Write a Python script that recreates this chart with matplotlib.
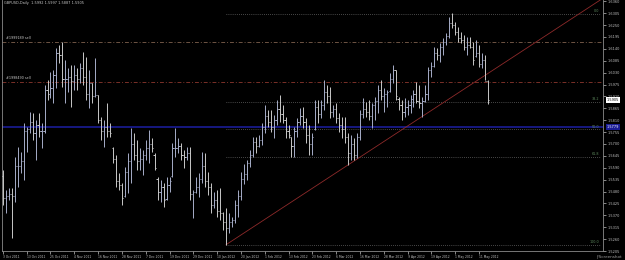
import numpy as np
import matplotlib
matplotlib.use("Agg")
import matplotlib.pyplot as plt
from matplotlib.collections import LineCollection
import matplotlib.transforms as mtransforms

# GBPUSD daily bars, 3 Oct 2011 .. 16 May 2012
high = [1.5580, 1.5488, 1.5497, 1.5497, 1.5640, 1.5687, 1.5663, 1.5797, 1.5779, 1.5848,
        1.5844, 1.5811, 1.5844, 1.5797, 1.5973, 1.5996, 1.6033, 1.6042, 1.6144, 1.6158,
        1.6172, 1.6088, 1.6052, 1.6065, 1.6065, 1.6052, 1.6075, 1.6125, 1.6102, 1.6042,
        1.5982, 1.6098, 1.5927, 1.5825, 1.5811, 1.5890, 1.5797, 1.5687, 1.5650, 1.5566,
        1.5520, 1.5594, 1.5659, 1.5774, 1.5751, 1.5719, 1.5682, 1.5673, 1.5719, 1.5765,
        1.5728, 1.5659, 1.5548, 1.5534, 1.5520, 1.5548, 1.5548, 1.5705, 1.5774, 1.5728,
        1.5705, 1.5673, 1.5687, 1.5687, 1.5488, 1.5548, 1.5566, 1.5663, 1.5659, 1.5571,
        1.5520, 1.5479, 1.5488, 1.5497, 1.5386, 1.5405, 1.5382, 1.5363, 1.5442, 1.5488,
        1.5571, 1.5608, 1.5626, 1.5673, 1.5733, 1.5733, 1.5742, 1.5797, 1.5881, 1.5857,
        1.5857, 1.5834, 1.5904, 1.5927, 1.5881, 1.5825, 1.5788, 1.5733, 1.5779, 1.5821,
        1.5867, 1.5871, 1.5821, 1.5788, 1.5751, 1.5904, 1.5904, 1.5904, 1.5996, 1.5973,
        1.5964, 1.5881, 1.5890, 1.5844, 1.5825, 1.5825, 1.5751, 1.5742, 1.5728, 1.5751,
        1.5857, 1.5913, 1.5894, 1.5904, 1.5890, 1.5918, 1.5973, 1.5996, 1.5959, 1.5950,
        1.6028, 1.6065, 1.6042, 1.5918, 1.5904, 1.5913, 1.5904, 1.5927, 1.5950, 1.5987,
        1.5973, 1.5918, 1.5973, 1.6056, 1.6079, 1.6149, 1.6144, 1.6167, 1.6190, 1.6213,
        1.6287, 1.6306, 1.6264, 1.6241, 1.6218, 1.6204, 1.6195, 1.6195, 1.6172, 1.6181,
        1.6158, 1.6121, 1.6112, 1.5997]
low = [1.5419, 1.5382, 1.5442, 1.5266, 1.5432, 1.5502, 1.5566, 1.5534, 1.5663, 1.5751,
       1.5719, 1.5626, 1.5733, 1.5682, 1.5751, 1.5904, 1.5913, 1.5890, 1.5959, 1.6075,
       1.5964, 1.5890, 1.5941, 1.5871, 1.5950, 1.5950, 1.5982, 1.5973, 1.5904, 1.5867,
       1.5890, 1.5918, 1.5797, 1.5719, 1.5687, 1.5733, 1.5733, 1.5613, 1.5502, 1.5488,
       1.5419, 1.5456, 1.5474, 1.5520, 1.5626, 1.5580, 1.5580, 1.5557, 1.5626, 1.5613,
       1.5663, 1.5580, 1.5442, 1.5432, 1.5409, 1.5442, 1.5479, 1.5548, 1.5640, 1.5659,
       1.5626, 1.5589, 1.5626, 1.5442, 1.5359, 1.5474, 1.5456, 1.5520, 1.5502, 1.5465,
       1.5382, 1.5405, 1.5363, 1.5349, 1.5303, 1.5234, 1.5289, 1.5317, 1.5335, 1.5363,
       1.5442, 1.5515, 1.5534, 1.5594, 1.5640, 1.5659, 1.5687, 1.5696, 1.5751, 1.5779,
       1.5756, 1.5728, 1.5788, 1.5802, 1.5797, 1.5728, 1.5728, 1.5640, 1.5640, 1.5733,
       1.5788, 1.5774, 1.5705, 1.5650, 1.5650, 1.5765, 1.5797, 1.5821, 1.5857, 1.5890,
       1.5821, 1.5825, 1.5797, 1.5756, 1.5728, 1.5705, 1.5603, 1.5626, 1.5626, 1.5636,
       1.5719, 1.5821, 1.5825, 1.5811, 1.5774, 1.5811, 1.5844, 1.5904, 1.5848, 1.5871,
       1.5941, 1.5982, 1.5904, 1.5857, 1.5811, 1.5825, 1.5834, 1.5844, 1.5871, 1.5890,
       1.5867, 1.5825, 1.5894, 1.5904, 1.6010, 1.6056, 1.6088, 1.6079, 1.6112, 1.6158,
       1.6190, 1.6236, 1.6204, 1.6172, 1.6167, 1.6135, 1.6112, 1.6144, 1.6065, 1.6102,
       1.6056, 1.6052, 1.5996, 1.5887]
opens = [1.5550, 1.5450, 1.5460, 1.5470, 1.5460, 1.5600, 1.5600, 1.5620, 1.5760, 1.5770,
         1.5800, 1.5750, 1.5790, 1.5760, 1.5760, 1.5950, 1.5930, 1.5960, 1.6020, 1.6120,
         1.6110, 1.6000, 1.6000, 1.6010, 1.5990, 1.6020, 1.6000, 1.6050, 1.6010, 1.5930,
         1.5980, 1.5920, 1.5925, 1.5810, 1.5760, 1.5780, 1.5760, 1.5680, 1.5630, 1.5530,
         1.5510, 1.5460, 1.5570, 1.5620, 1.5700, 1.5650, 1.5620, 1.5630, 1.5650, 1.5680,
         1.5700, 1.5650, 1.5540, 1.5480, 1.5500, 1.5445, 1.5510, 1.5550, 1.5680, 1.5680,
         1.5690, 1.5650, 1.5640, 1.5660, 1.5470, 1.5480, 1.5500, 1.5540, 1.5600, 1.5530,
         1.5500, 1.5420, 1.5440, 1.5390, 1.5380, 1.5340, 1.5310, 1.5340, 1.5350, 1.5420,
         1.5460, 1.5540, 1.5560, 1.5610, 1.5650, 1.5710, 1.5690, 1.5720, 1.5780, 1.5830,
         1.5800, 1.5780, 1.5810, 1.5860, 1.5840, 1.5810, 1.5760, 1.5730, 1.5690, 1.5760,
         1.5800, 1.5830, 1.5800, 1.5740, 1.5700, 1.5770, 1.5870, 1.5840, 1.5880, 1.5940,
         1.5920, 1.5850, 1.5860, 1.5820, 1.5790, 1.5770, 1.5730, 1.5660, 1.5700, 1.5650,
         1.5730, 1.5840, 1.5860, 1.5850, 1.5830, 1.5880, 1.5900, 1.5950, 1.5920, 1.5930,
         1.5945, 1.6000, 1.6040, 1.5910, 1.5880, 1.5850, 1.5870, 1.5880, 1.5910, 1.5930,
         1.5900, 1.5890, 1.5900, 1.5930, 1.6040, 1.6060, 1.6120, 1.6110, 1.6150, 1.6170,
         1.6200, 1.6260, 1.6250, 1.6220, 1.6190, 1.6180, 1.6150, 1.6160, 1.6150, 1.6105,
         1.6120, 1.6070, 1.6090, 1.5992]
close = [1.5450, 1.5460, 1.5470, 1.5460, 1.5600, 1.5600, 1.5620, 1.5760, 1.5770, 1.5800,
         1.5750, 1.5790, 1.5760, 1.5760, 1.5950, 1.5930, 1.5960, 1.6020, 1.6120, 1.6110,
         1.6000, 1.6000, 1.6010, 1.5990, 1.6020, 1.6000, 1.6050, 1.6010, 1.5930, 1.5980,
         1.5920, 1.5925, 1.5810, 1.5760, 1.5780, 1.5760, 1.5750, 1.5630, 1.5530, 1.5510,
         1.5450, 1.5570, 1.5620, 1.5700, 1.5650, 1.5620, 1.5630, 1.5650, 1.5680, 1.5700,
         1.5680, 1.5590, 1.5480, 1.5500, 1.5440, 1.5510, 1.5530, 1.5680, 1.5680, 1.5690,
         1.5650, 1.5640, 1.5660, 1.5470, 1.5480, 1.5500, 1.5540, 1.5600, 1.5530, 1.5500,
         1.5420, 1.5440, 1.5390, 1.5380, 1.5340, 1.5310, 1.5340, 1.5350, 1.5420, 1.5460,
         1.5540, 1.5560, 1.5610, 1.5650, 1.5710, 1.5690, 1.5720, 1.5780, 1.5830, 1.5800,
         1.5780, 1.5810, 1.5860, 1.5840, 1.5810, 1.5760, 1.5740, 1.5690, 1.5760, 1.5800,
         1.5830, 1.5800, 1.5740, 1.5700, 1.5730, 1.5870, 1.5840, 1.5880, 1.5940, 1.5920,
         1.5850, 1.5860, 1.5820, 1.5790, 1.5770, 1.5730, 1.5660, 1.5700, 1.5650, 1.5730,
         1.5840, 1.5860, 1.5850, 1.5830, 1.5880, 1.5900, 1.5950, 1.5920, 1.5930, 1.5940,
         1.6000, 1.6040, 1.5920, 1.5880, 1.5850, 1.5870, 1.5880, 1.5910, 1.5930, 1.5900,
         1.5890, 1.5900, 1.5930, 1.6040, 1.6060, 1.6120, 1.6110, 1.6150, 1.6170, 1.6200,
         1.6260, 1.6250, 1.6220, 1.6190, 1.6180, 1.6150, 1.6160, 1.6150, 1.6090, 1.6120,
         1.6070, 1.6090, 1.5992, 1.5905]

date_labels = ["3 Oct 2011", "13 Oct 2011", "25 Oct 2011", "4 Nov 2011", "16 Nov 2011",
               "28 Nov 2011", "7 Dec 2011", "19 Dec 2011", "29 Dec 2011", "10 Jan 2012",
               "20 Jan 2012", "1 Feb 2012", "13 Feb 2012", "23 Feb 2012", "6 Mar 2012",
               "16 Mar 2012", "28 Mar 2012", "9 Apr 2012", "19 Apr 2012", "1 May 2012",
               "11 May 2012"]
label_step = 8  # bars between date labels
price_ticks = [1.6360, 1.6305, 1.6250, 1.6195, 1.6140, 1.6085, 1.6030, 1.5975, 1.5920,
               1.5865, 1.5810, 1.5755, 1.5700, 1.5645, 1.5590, 1.5535, 1.5480, 1.5425,
               1.5370, 1.5315, 1.5260, 1.5205]

# objects drawn on the chart
orders = [("#1999189 sell", 1.6172, "#6e5444"), ("#1998490 sell", 1.5987, "#7a3028")]
blue_level = 1.5779
fib_low_bar, fib_low = 75, 1.5234
fib_high_bar, fib_high = 151, 1.6301
fib_levels = [0.0, 38.2, 50.0, 61.8, 100.0]
trend_bars = [75, 116]
trend_prices = [1.5234, 1.5603]

BG = "black"
FG = "#c0c0c0"
n = len(close)
x = np.arange(n)

fig = plt.figure(figsize=(6.25, 2.6), dpi=100, facecolor=BG)
ax = fig.add_axes([2 / 625, 9 / 260, 601 / 625, 251 / 260], facecolor=BG)
ax.set_xlim(-0.3, 201.7)
ax.set_ylim(1.5207, 1.6366)

# OHLC bars
segs, cols = [], []
for i in range(n):
    c = "#a6adc8" if close[i] >= opens[i] else "#c8c8c8"
    segs.append([(x[i], low[i]), (x[i], high[i])])
    segs.append([(x[i] - 0.38, opens[i]), (x[i], opens[i])])
    segs.append([(x[i], close[i]), (x[i] + 0.38, close[i])])
    cols += [c, c, c]
ax.add_collection(LineCollection(segs, colors=cols, linewidths=0.7, zorder=3))

# order lines
for name, lvl, col in orders:
    ax.axhline(lvl, color=col, lw=0.7, ls=(0, (4, 2, 1, 2)), zorder=2)
    ax.text(1.0, lvl + 0.0008, name, color="#c8c8c8", fontsize=2.4, va="bottom", ha="left")

# blue horizontal line
ax.axhline(blue_level, color="#1a1c96", lw=1.2, zorder=2)

# fibonacci retracement
rng = fib_high - fib_low
xmax = ax.get_xlim()[1]
for lv in fib_levels:
    p = fib_high - rng * lv / 100.0
    ax.plot([fib_low_bar, xmax - 0.6], [p, p], color="#8c8c8c", lw=0.5, ls=(0, (1, 2)), zorder=2)
    ax.text(xmax - 1.2, p + 0.0004, f"{lv:.1f}", color="#5e8a5e", fontsize=2.4,
            ha="right", va="bottom")

# trendline ray
slope = (trend_prices[1] - trend_prices[0]) / (trend_bars[1] - trend_bars[0])
xe = xmax + 2
ax.plot([trend_bars[0], xe], [trend_prices[0], trend_prices[0] + slope * (xe - trend_bars[0])],
        color="#8e2a2a", lw=0.6, zorder=2, clip_on=True)

# axes styling
for side in ["left", "bottom", "right", "top"]:
    ax.spines[side].set_color("#8a8a8a")
    ax.spines[side].set_linewidth(0.6)
ax.spines["top"].set_visible(False)
ax.yaxis.tick_right()
ax.set_yticks(price_ticks)
ax.set_yticklabels([f"{p:.4f}" for p in price_ticks])
ax.tick_params(axis="y", colors=FG, labelsize=2.5, length=2, width=0.5, pad=1.5)
ticks_x = np.arange(len(date_labels)) * label_step
ax.set_xticks(ticks_x)
ax.set_xticklabels(date_labels, ha="left")
ax.tick_params(axis="x", colors=FG, labelsize=2.2, length=2, width=0.5, pad=1)

# price boxes on the axis
trans = mtransforms.blended_transform_factory(ax.transAxes, ax.transData)
ax.text(1.006, close[-1], f"{close[-1]:.4f}", transform=trans, fontsize=2.5, color="black",
        va="center", ha="left", bbox=dict(boxstyle="square,pad=0.25", fc="white", ec="none"))
ax.text(1.006, blue_level, f"{blue_level:.4f}", transform=trans, fontsize=2.5, color="white",
        va="center", ha="left", bbox=dict(boxstyle="square,pad=0.25", fc="#1a1c96", ec="none"))

# header
ax.text(0.004, 0.995, f"GBPUSD,Daily  {opens[-1]:.4f} {high[-1]:.4f} {low[-1]:.4f} {close[-1]:.4f}",
        transform=ax.transAxes, color="#c8c8c8", fontsize=2.5, va="top", ha="left")

fig.text(0.995, 0.005, "jfScreenshot", color="#9a9a9a", fontsize=3.0, ha="right", va="bottom")

fig.savefig("out.png", dpi=100, facecolor=BG)
